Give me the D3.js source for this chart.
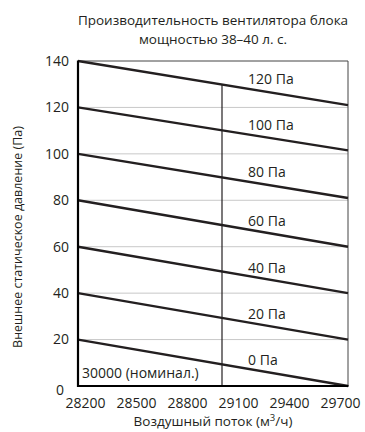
<!DOCTYPE html>
<html>
<head>
<meta charset="utf-8">
<script src="https://cdn.jsdelivr.net/npm/d3@7"></script>
<style>
  body { margin: 0; background: #fff; }
  text { font-family: "Open Sans", "Noto Sans", sans-serif; fill: #231f20; }
</style>
</head>
<body>
<div id="chart"></div>
<script>
// Data
var pressureLabels = ["0 Па", "20 Па", "40 Па", "60 Па", "80 Па", "100 Па", "120 Па"];
var pressureAtStart = [20, 40, 60, 80, 100, 120, 140];   // at 28200
var pressureAtEnd = [0, 20, 40, 60, 81, 101.5, 121];     // at 29700
var flowStart = 28200;
var flowEnd = 29700;
var nominalFlow = 29000;
var xTicks = [28200, 28500, 28800, 29100, 29400, 29700];
var yTicks = [0, 20, 40, 60, 80, 100, 120, 140];

const width = 365;
const height = 432;
var margin = {top: 61, right: 17, bottom: 46, left: 78};
var plotWidth = width - margin.left - margin.right;
var plotHeight = height - margin.top - margin.bottom;

var svg = d3.select("#chart")
            .append("svg")
                .attr("width", width)
                .attr("height", height);

var g = svg.append("g")
            .attr("transform", "translate(" + margin.left + "," + margin.top + ")");

var scaleX = d3.scaleLinear().domain([flowStart, flowEnd]).range([0, plotWidth]);
var scaleY = d3.scaleLinear().domain([0, 140]).range([plotHeight, 0]);

// tick labels sit a bit closer together than the ticks
var labelX = d3.scaleLinear().domain([flowStart, flowEnd]).range([7.5, plotWidth - 7.5]);

// Gridlines
g.append("g")
    .selectAll("line")
    .data(yTicks.filter(function(d) { return d > 0 && d < 140; }))
    .enter()
    .append("line")
        .attr("x1", 0)
        .attr("x2", plotWidth)
        .attr("y1", function(d) { return scaleY(d); })
        .attr("y2", function(d) { return scaleY(d); })
        .attr("stroke", "#c8c8c8")
        .attr("stroke-width", 1);

// Top and right borders
g.append("line")
    .attr("x1", 0).attr("x2", plotWidth)
    .attr("y1", scaleY(140)).attr("y2", scaleY(140))
    .attr("stroke", "#444").attr("stroke-width", 1);
g.append("line")
    .attr("x1", plotWidth).attr("x2", plotWidth)
    .attr("y1", 0).attr("y2", plotHeight)
    .attr("stroke", "#444").attr("stroke-width", 1);

// Nominal flow line, up to the top curve
var topIdx = pressureAtStart.length - 1;
var topAtNominal = pressureAtStart[topIdx] +
    (pressureAtEnd[topIdx] - pressureAtStart[topIdx]) * (nominalFlow - flowStart) / (flowEnd - flowStart);
g.append("line")
    .attr("x1", scaleX(nominalFlow)).attr("x2", scaleX(nominalFlow))
    .attr("y1", scaleY(0)).attr("y2", scaleY(topAtNominal))
    .attr("stroke", "#231f20").attr("stroke-width", 1.2);

// Fan curves
var curves = pressureLabels.map(function(label, i) {
    return {label: label, start: pressureAtStart[i], end: pressureAtEnd[i]};
});

g.append("g")
    .selectAll("line")
    .data(curves)
    .enter()
    .append("line")
        .attr("x1", scaleX(flowStart))
        .attr("y1", function(d) { return scaleY(d.start); })
        .attr("x2", scaleX(flowEnd))
        .attr("y2", function(d) { return scaleY(d.end); })
        .attr("stroke", "#231f20")
        .attr("stroke-width", 2.4);

// Curve labels
g.append("g")
    .selectAll("text")
    .data(curves)
    .enter()
    .append("text")
        .attr("x", scaleX(29145))
        .attr("y", function(d) { return scaleY(d.end + 11); })
        .attr("dy", "0.35em")
        .style("font-size", "14px")
        .text(function(d) { return d.label; });

// Nominal label
g.append("text")
    .attr("x", 4)
    .attr("y", scaleY(5.5))
    .attr("dy", "0.35em")
    .style("font-size", "14px")
    .text("30000 (номинал.)");

// Left and bottom axes
g.append("line")
    .attr("x1", 0).attr("x2", 0)
    .attr("y1", -0.5).attr("y2", plotHeight + 1)
    .attr("stroke", "#000").attr("stroke-width", 2.2);
g.append("line")
    .attr("x1", -1).attr("x2", plotWidth + 0.5)
    .attr("y1", plotHeight).attr("y2", plotHeight)
    .attr("stroke", "#000").attr("stroke-width", 2.2);

// Tick labels
g.append("g")
    .selectAll("text")
    .data(yTicks)
    .enter()
    .append("text")
        .attr("x", function(d) { return d === 0 ? -14 : -9; })
        .attr("y", function(d) { return scaleY(d) + (d === 0 ? 4 : 0); })
        .attr("dy", "0.35em")
        .style("text-anchor", "end")
        .style("font-size", "14px")
        .text(function(d) { return d; });

g.append("g")
    .selectAll("text")
    .data(xTicks)
    .enter()
    .append("text")
        .attr("x", function(d) { return labelX(d); })
        .attr("y", plotHeight + 17)
        .attr("dy", "0.35em")
        .style("text-anchor", "middle")
        .style("font-size", "14px")
        .text(function(d) { return d; });

// Titles
svg.append("text")
    .attr("x", margin.left + plotWidth / 2)
    .attr("y", 20.5)
    .attr("dy", "0.35em")
    .style("text-anchor", "middle")
    .style("font-size", "13.5px")
    .text("Производительность вентилятора блока");
svg.append("text")
    .attr("x", margin.left + plotWidth / 2)
    .attr("y", 39.5)
    .attr("dy", "0.35em")
    .style("text-anchor", "middle")
    .style("font-size", "13.5px")
    .text("мощностью 38–40 л. с.");

svg.append("text")
    .attr("x", margin.left + plotWidth / 2)
    .attr("y", 421)
    .attr("dy", "0.35em")
    .style("text-anchor", "middle")
    .style("font-size", "13.5px")
    .html("Воздушный поток (м<tspan dy='-5' font-size='9.5px'>3</tspan><tspan dy='5'>/ч)</tspan>");

svg.append("text")
    .attr("transform", "translate(18,237) rotate(-90)")
    .attr("dy", "0.35em")
    .style("text-anchor", "middle")
    .style("font-size", "12.5px")
    .text("Внешнее статическое давление (Па)");
</script>
</body>
</html>
